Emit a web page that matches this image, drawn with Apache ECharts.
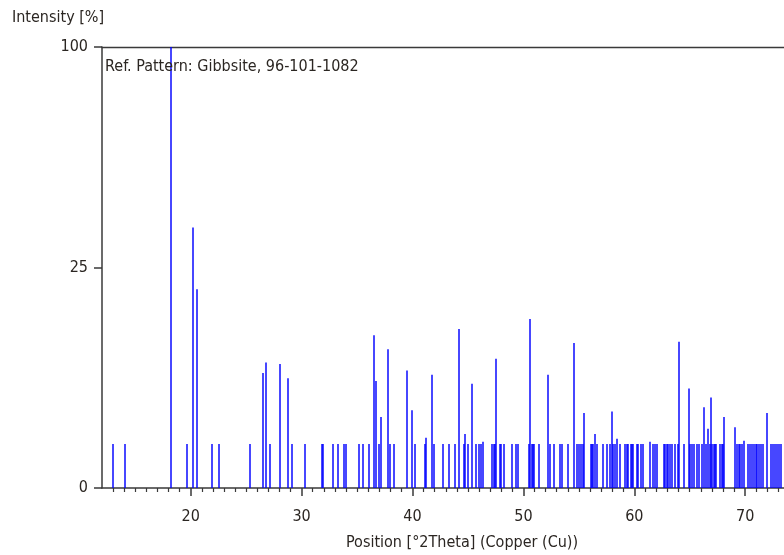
<!DOCTYPE html>
<html>
<head>
<meta charset="utf-8">
<script src="https://cdn.jsdelivr.net/npm/echarts@6/dist/echarts.min.js"></script>
<style>html,body{margin:0;padding:0;background:#fff}#c{width:784px;height:555px}</style>
</head>
<body>
<div id="c"></div>
<script>
// Peak positions (°2Theta) and relative intensities (%)
const positions = [13.0,14.05,18.2,19.7,20.24,20.54,21.89,22.55,25.32,26.55,26.82,27.12,28.05,28.74,29.16,30.27,31.8,31.89,32.85,33.27,33.85,33.96,35.2,35.5,36.04,36.52,36.7,37.0,37.12,37.77,37.95,38.35,39.49,39.97,40.27,41.11,41.23,41.77,41.95,42.73,43.27,43.81,44.23,44.66,44.77,45.0,45.38,45.74,46.04,46.22,46.33,47.21,47.33,47.45,47.57,47.87,48.0,48.23,48.95,49.37,49.49,50.51,50.63,50.75,50.87,50.99,51.41,52.25,52.37,52.73,53.33,53.45,54.05,54.53,54.84,55.05,55.23,55.35,55.47,56.07,56.19,56.31,56.49,56.61,57.15,57.57,57.81,57.99,58.11,58.23,58.41,58.71,59.19,59.31,59.43,59.67,59.79,59.91,60.21,60.33,60.57,60.81,61.41,61.65,61.89,62.07,62.66,62.79,62.91,63.03,63.21,63.39,63.63,63.9,64.03,64.44,64.92,65.04,65.23,65.41,65.65,65.83,66.13,66.31,66.43,66.61,66.79,66.91,67.03,67.15,67.27,67.39,67.75,67.87,68.0,68.11,69.07,69.25,69.43,69.55,69.73,69.91,70.21,70.39,70.57,70.75,70.93,71.11,71.29,71.41,71.59,72.0,72.36,72.54,72.72,72.9,73.08,73.2];
const intensities = [1,1,100,1,34.9,20.3,1,1,1,6.8,8.1,1,7.9,6.2,1,1,1,1,1,1,1,1,1,1,1,12.0,5.9,1,2.6,9.9,1,1,7.1,3.1,1,1,1.3,6.6,1,1,1,1,13.0,1,1.5,1,5.6,1,1,1,1.1,1,1,1,8.6,1,1,1,1,1,1,1,14.7,1,1,1,1,6.6,1,1,1,1,1,10.8,1,1,1,1,2.9,1,1,1,1.5,1,1,1,1,3.0,1,1,1.25,1,1,1,1,1,1,1,1,1,1,1,1.1,1,1,1,1,1,1,1,1,1,1,1,11.0,1,5.1,1,1,1,1,1,1,3.35,1,1.8,1,4.2,1,1,1,1,1,1,1,2.6,1.9,1,1,1,1,1.15,1,1,1,1,1,1,1,1,1,2.9,1,1,1,1,1,1];
const xMajorTicks = [20,30,40,50,60,70];
const xMinorTicks = [13,14,15,16,17,18,19,21,22,23,24,25,26,27,28,29,31,32,33,34,35,36,37,38,39,41,42,43,44,45,46,47,48,49,51,52,53,54,55,56,57,58,59,61,62,63,64,65,66,67,68,69,71,72,73];
const yTickLabels = [0,25,100];

const FONT = "'Liberation Sans Narrow','DejaVu Sans Condensed','Arial Narrow',sans-serif";
const TXT = '#2b2622';
const AX = '#3a3a3a';
const xMin = 12, xMax = 73.5;

const chart = echarts.init(document.getElementById('c'), null, {renderer:'canvas'});
chart.setOption({
  animation:false,
  backgroundColor:'#fff',
  grid:{left:102, top:47, bottom:67, right:0, show:false},
  xAxis:[{
    type:'value', min:xMin, max:xMax, position:'bottom',
    axisLine:{show:true, onZero:false, lineStyle:{color:AX, width:1.5}},
    axisTick:{show:true, customValues:xMajorTicks, length:8, inside:false, lineStyle:{color:AX, width:1.5}},
    axisLabel:{customValues:xMajorTicks, margin:21, fontFamily:FONT, fontSize:16, color:TXT},
    splitLine:{show:false}
  },{
    type:'value', min:xMin, max:xMax, position:'bottom',
    axisLine:{show:false},
    axisTick:{show:true, customValues:xMinorTicks, length:4, lineStyle:{color:AX, width:1.2}},
    axisLabel:{show:false},
    splitLine:{show:false}
  },{
    type:'value', min:xMin, max:xMax, position:'top',
    axisLine:{show:true, onZero:false, lineStyle:{color:AX, width:1.3}},
    axisTick:{show:false},
    axisLabel:{show:false},
    splitLine:{show:false}
  }],
  yAxis:{
    type:'value', min:0, max:10, interval:5,
    axisLine:{show:true, lineStyle:{color:AX, width:1.5}},
    axisTick:{show:true, length:8, lineStyle:{color:AX, width:1.5}},
    axisLabel:{margin:14, fontFamily:FONT, fontSize:16, color:TXT,
      formatter:function(v){ const idx = Math.round(v/5); return String(yTickLabels[idx]); }},
    splitLine:{show:false}
  },
  graphic:[
    {type:'text', left:12, top:10, style:{text:'Intensity [%]', font:'16px '+FONT, fill:TXT}},
    {type:'text', left:105, top:59, z:10, style:{text:'Ref. Pattern: Gibbsite, 96-101-1082', font:'16px '+FONT, fill:TXT}},
    {type:'text', left:346, top:535, style:{text:'Position [°2Theta] (Copper (Cu))', font:'16px '+FONT, fill:TXT}}
  ],
  series:[{
    type:'custom',
    clip:true,
    data:positions.map((p,i)=>[p, Math.sqrt(intensities[i])]),
    renderItem:function(params, api){
      const b = api.coord([api.value(0), 0]);
      const t = api.coord([api.value(0), api.value(1)]);
      const x = Math.round(b[0]);
      return {type:'line', shape:{x1:x, y1:b[1], x2:x, y2:t[1]},
        style:{stroke:'rgba(0,0,255,0.72)', lineWidth:2}};
    }
  }]
});
</script>
</body>
</html>
